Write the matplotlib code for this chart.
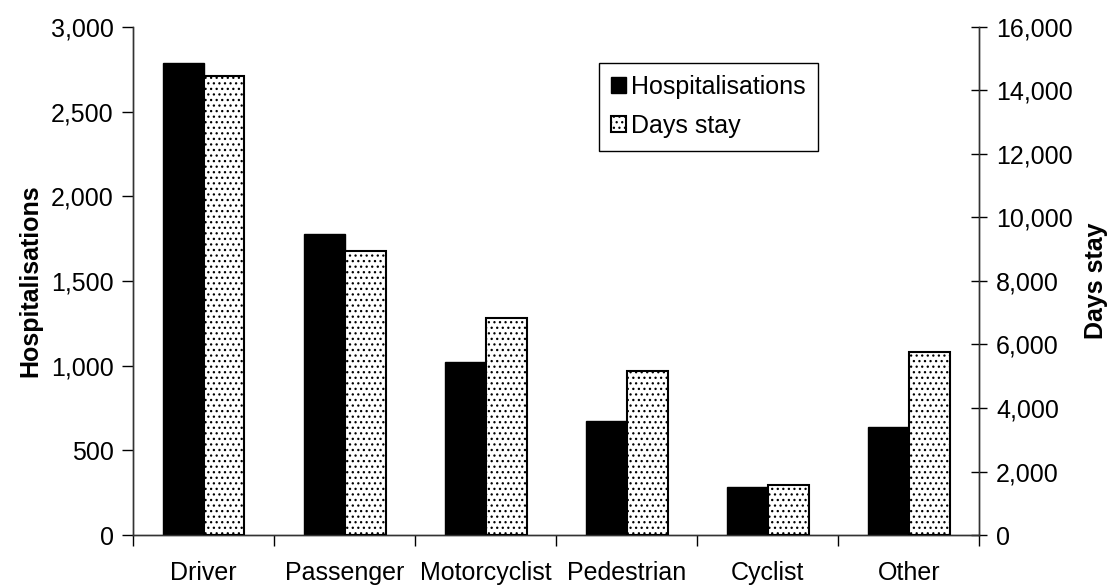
import numpy as np
import matplotlib.pyplot as plt
from matplotlib.ticker import FuncFormatter, FixedLocator

plt.rcParams['font.family'] = ['Liberation Sans', 'DejaVu Sans']
plt.rcParams['hatch.linewidth'] = 0.9

categories = ['Driver', 'Passenger', 'Motorcyclist', 'Pedestrian', 'Cyclist', 'Other']
hospitalisations = [2790, 1775, 1020, 675, 285, 640]
days_stay = [14440, 8950, 6850, 5150, 1585, 5750]

fig = plt.figure(figsize=(11.18, 5.86), dpi=100)
ax = fig.add_axes([0.119, 0.087, 0.757, 0.867])
ax2 = ax.twinx()

x = np.arange(len(categories))
w = 0.29

ax.bar(x - w/2, hospitalisations, w, color='black', edgecolor='black', linewidth=1,
       label='Hospitalisations', zorder=3)
ax2.bar(x + w/2, days_stay, w, facecolor='white', edgecolor='black', hatch='...',
        linewidth=1.5, label='Days stay', zorder=3)

ax.set_xlim(-0.5, len(categories) - 0.5)
ax.set_ylim(0, 3000)
ax2.set_ylim(0, 16000)
ax.set_yticks(np.arange(0, 3001, 500))
ax2.set_yticks(np.arange(0, 16001, 2000))

fmt = FuncFormatter(lambda v, p: f'{int(v):,}')
ax.yaxis.set_major_formatter(fmt)
ax2.yaxis.set_major_formatter(fmt)

ax.set_xticks(x)
ax.set_xticklabels(categories)
ax.xaxis.set_minor_locator(FixedLocator(np.arange(-0.5, len(categories), 1.0)))
ax.tick_params(axis='x', which='major', length=0, labelsize=18, pad=19)
ax.tick_params(axis='x', which='minor', length=8, width=1, direction='out')
ax.tick_params(axis='y', length=8, width=1, direction='out', labelsize=18, pad=6)
ax2.tick_params(axis='y', length=12, width=1, direction='inout', labelsize=18, pad=6)

for a in (ax, ax2):
    a.spines['top'].set_visible(False)
    for s in a.spines.values():
        s.set_color('#333333')
        s.set_linewidth(1)

ax.set_ylabel('Hospitalisations', fontsize=18, fontweight='bold', labelpad=6)
ax2.set_ylabel('Days stay', fontsize=18, fontweight='bold', labelpad=8)

h1, l1 = ax.get_legend_handles_labels()
h2, l2 = ax2.get_legend_handles_labels()
leg = ax2.legend(h1 + h2, l1 + l2, loc='upper left', bbox_to_anchor=(0.55, 0.93),
                 fontsize=18, frameon=True, fancybox=False, framealpha=1,
                 edgecolor='black', handlelength=0.6, handleheight=0.6,
                 handletextpad=0.2, borderpad=0.5, borderaxespad=0,
                 labelspacing=0.6)
leg.get_frame().set_linewidth(1)

fig.savefig('out.png', dpi=100)
